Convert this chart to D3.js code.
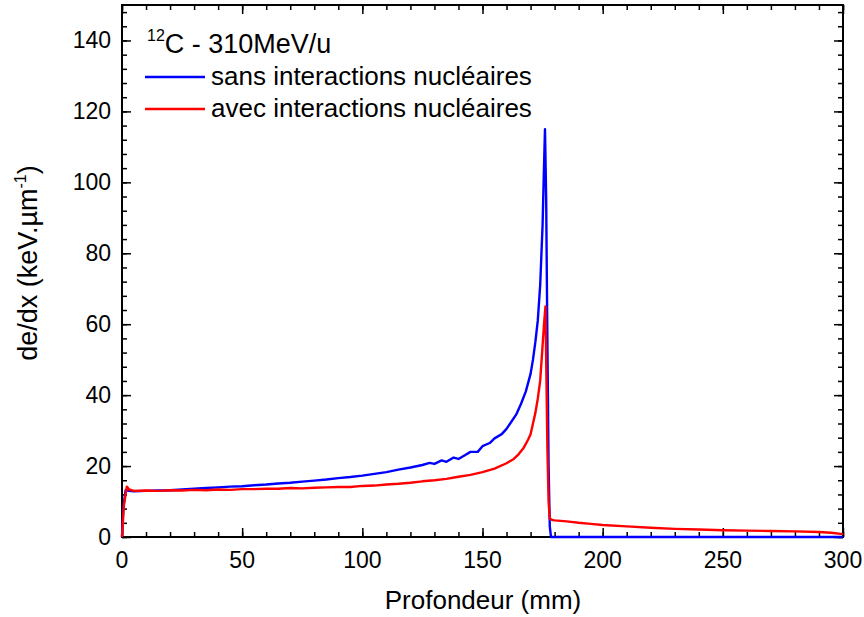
<!DOCTYPE html>
<html>
<head>
<meta charset="utf-8">
<script src="https://cdn.jsdelivr.net/npm/d3@7"></script>
<style>
  body { margin: 0; background: #fff; }
  svg text { font-family: "Liberation Sans", Arial, sans-serif; fill: #000; }
</style>
</head>
<body>
<div id="chart"></div>
<script>
// depth (mm) and de/dx (keV/um)
var sansDepth = [0, 0.5, 1.5, 3, 5, 10, 15, 20, 25, 30, 35, 40, 45, 50, 55, 60, 65, 70, 75, 80,
  85, 90, 95, 100, 105, 110, 115, 120, 125, 128, 130, 133, 135, 138, 140, 143, 145, 148, 150,
  153, 155, 158, 160, 162, 164, 166, 168, 170, 171, 172, 173, 174, 175, 175.5, 176, 176.5,
  177, 177.5, 178, 178.5, 200, 250, 300];
var sansDedx = [0, 8, 13.2, 13.0, 12.9, 13.0, 13.1, 13.2, 13.4, 13.6, 13.8, 14.0, 14.2, 14.3,
  14.6, 14.8, 15.1, 15.3, 15.6, 15.9, 16.2, 16.6, 16.9, 17.3, 17.8, 18.3, 19.0, 19.6, 20.3,
  20.9, 20.6, 21.6, 21.2, 22.4, 22.0, 23.2, 24.0, 24.0, 25.6, 26.5, 27.8, 29.0, 30.5, 32.5,
  34.5, 37.5, 41, 46, 50, 55, 61, 71, 88, 102, 115, 95, 55, 20, 3, 0, 0, 0, 0];

var avecDepth = [0, 0.8, 2, 3, 5, 10, 15, 20, 25, 30, 35, 40, 45, 50, 55, 60, 65, 70, 75, 80,
  85, 90, 95, 100, 105, 110, 115, 120, 125, 130, 135, 140, 145, 150, 155, 160, 163, 165, 167,
  169, 170, 171, 172, 173, 174, 175, 175.6, 176.2, 176.6, 177, 177.5, 178, 179, 180, 185, 190,
  195, 200, 210, 220, 230, 240, 250, 260, 270, 280, 290, 295, 300];
var avecDedx = [0, 9, 14.2, 13.4, 13.0, 13.1, 13.0, 13.2, 13.1, 13.3, 13.2, 13.4, 13.3, 13.5,
  13.5, 13.6, 13.6, 13.8, 13.7, 13.9, 14.0, 14.1, 14.1, 14.4, 14.5, 14.8, 15.0, 15.3, 15.7,
  16.0, 16.4, 17.0, 17.5, 18.3, 19.3, 20.8, 22.0, 23.3, 25.0, 27.5, 29, 32, 35, 39, 44, 54,
  60, 65, 45, 25, 10, 5.2, 4.8, 4.7, 4.4, 4.0, 3.7, 3.4, 3.0, 2.6, 2.3, 2.1, 1.9, 1.8, 1.7,
  1.6, 1.4, 1.2, 0.8];

var xTicks = [0, 50, 100, 150, 200, 250, 300];
var yTicks = [0, 20, 40, 60, 80, 100, 120, 140];

var width = 864,
    height = 617;
var margin = {top: 5, right: 21, bottom: 80, left: 122},
    chartWidth = width - margin.left - margin.right,
    chartHeight = height - margin.top - margin.bottom;

var svg = d3.select("#chart").append("svg")
    .attr("width", width)
    .attr("height", height);

var chart = svg.append("g")
    .attr("transform", "translate(" + margin.left + "," + margin.top + ")");

var x = d3.scaleLinear().domain([0, 300]).range([0, chartWidth]);
var y = d3.scaleLinear().domain([0, 150]).range([chartHeight, 0]);

// minor ticks (inward, all four sides)
var xMinor = d3.range(0, 301, 10),
    yMinor = d3.range(0, 151, 4);

function tickAxis(axisFn, scale, values, size, transform) {
  chart.append("g")
      .attr("transform", transform)
      .call(axisFn(scale).tickValues(values).tickSize(size).tickFormat(""))
      .call(function(g){ g.select(".domain").remove(); })
      .selectAll("line").attr("stroke", "#000").attr("stroke-width", 1.5);
}

tickAxis(d3.axisTop, x, xMinor, 5, "translate(0," + chartHeight + ")");
tickAxis(d3.axisTop, x, xTicks, 9, "translate(0," + chartHeight + ")");
tickAxis(d3.axisBottom, x, xMinor, 5, "translate(0,0)");
tickAxis(d3.axisBottom, x, xTicks, 9, "translate(0,0)");
tickAxis(d3.axisRight, y, yMinor, 5, "translate(0,0)");
tickAxis(d3.axisRight, y, yTicks, 9, "translate(0,0)");
tickAxis(d3.axisLeft, y, yMinor, 5, "translate(" + chartWidth + ",0)");
tickAxis(d3.axisLeft, y, yTicks, 9, "translate(" + chartWidth + ",0)");

// tick labels
chart.append("g").selectAll("text")
    .data(xTicks)
  .enter().append("text")
    .attr("x", function(d){ return x(d); })
    .attr("y", chartHeight + 31)
    .attr("text-anchor", "middle")
    .style("font-size", "23px")
    .text(function(d){ return d; });

chart.append("g").selectAll("text")
    .data(yTicks)
  .enter().append("text")
    .attr("x", -11)
    .attr("y", function(d){ return y(d) + 8; })
    .attr("text-anchor", "end")
    .style("font-size", "23px")
    .text(function(d){ return d; });

// frame
chart.append("rect")
    .attr("width", chartWidth)
    .attr("height", chartHeight)
    .attr("fill", "none")
    .attr("stroke", "#000")
    .attr("stroke-width", 2);

// curves
var line = d3.line()
    .x(function(d){ return x(d[0]); })
    .y(function(d){ return y(d[1]); });

chart.append("path")
    .datum(d3.zip(sansDepth, sansDedx))
    .attr("fill", "none")
    .attr("stroke", "#0000ff")
    .attr("stroke-width", 2.4)
    .attr("stroke-linejoin", "round")
    .attr("d", line);

chart.append("path")
    .datum(d3.zip(avecDepth, avecDedx))
    .attr("fill", "none")
    .attr("stroke", "#ff0000")
    .attr("stroke-width", 2.4)
    .attr("stroke-linejoin", "round")
    .attr("d", line);

// axis titles
svg.append("text")
    .attr("x", 483)
    .attr("y", 609)
    .attr("text-anchor", "middle")
    .style("font-size", "26px")
    .text("Profondeur (mm)");

var yTitle = svg.append("text")
    .attr("transform", "translate(37,263) rotate(-90)")
    .attr("text-anchor", "middle")
    .style("font-size", "27px");
yTitle.append("tspan").text("de/dx (keV.µm");
yTitle.append("tspan").attr("dy", -11).style("font-size", "16px").text("-1");
yTitle.append("tspan").attr("dy", 11).text(")");

// legend
var legend = svg.append("g");
var title = legend.append("text")
    .attr("x", 147)
    .attr("y", 53)
    .style("font-size", "27px");
title.append("tspan").attr("dy", -12).style("font-size", "16px").text("12");
title.append("tspan").attr("dy", 12).text("C - 310MeV/u");

var entries = [
  {label: "sans interactions nucléaires", color: "#0000ff", y: 77},
  {label: "avec interactions nucléaires", color: "#ff0000", y: 109}
];
entries.forEach(function(e){
  legend.append("line")
      .attr("x1", 145).attr("x2", 205)
      .attr("y1", e.y).attr("y2", e.y)
      .attr("stroke", e.color)
      .attr("stroke-width", 2.4);
  legend.append("text")
      .attr("x", 211)
      .attr("y", e.y + 8)
      .style("font-size", "26px")
      .text(e.label);
});
</script>
</body>
</html>
